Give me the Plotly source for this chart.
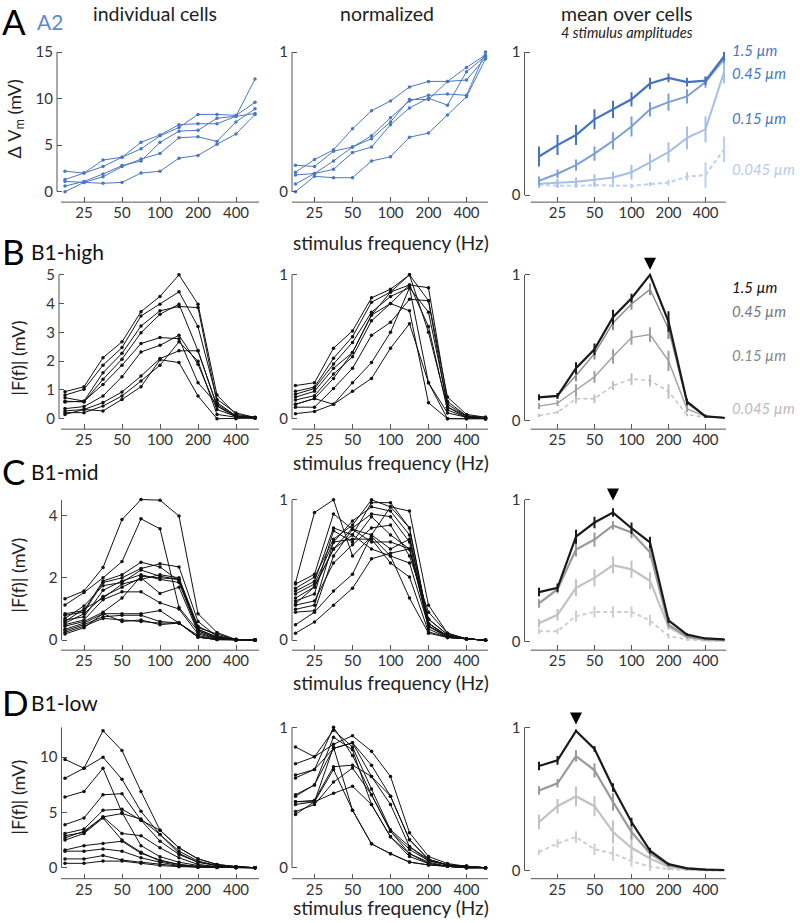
import math
import plotly.graph_objects as go

W, H = 800, 923
FONT = "Lato"

# ---------------- data ----------------
freqs = [17.68, 25, 35.36, 50, 70.71, 100, 141.4, 200, 282.8, 400, 565.7]
xtick_vals = [25, 50, 100, 200, 400]
xtick_text = ["25", "50", "100", "200", "400"]
amp_labels = ["1.5 µm", "0.45 µm", "0.15 µm", "0.045 µm"]

# Row A (A2) individual cells, mV
A_cells = [
    [2.2, 2.0, 2.7, 3.7, 4.6, 6.0, 6.9, 8.3, 8.3, 8.2, 9.6],
    [1.3, 2.0, 3.4, 3.7, 5.3, 6.1, 7.2, 7.3, 7.3, 8.1, 8.4],
    [0.6, 1.1, 1.9, 2.8, 3.3, 5.3, 6.5, 6.6, 7.9, 8.1, 12.1],
    [0.0, 1.0, 1.6, 2.7, 3.5, 4.1, 5.8, 5.9, 5.4, 7.5, 8.9],
    [1.1, 1.0, 0.9, 1.0, 2.0, 2.2, 3.6, 3.9, 5.1, 6.2, 8.3],
]
A_norm = [
    [0.14, 0.23, 0.30, 0.45, 0.58, 0.65, 0.75, 0.79, 0.79, 0.80, 0.96],
    [0.19, 0.18, 0.29, 0.32, 0.38, 0.50, 0.66, 0.66, 0.79, 0.89, 0.98],
    [0.12, 0.13, 0.22, 0.32, 0.40, 0.53, 0.65, 0.69, 0.70, 0.69, 1.00],
    [0.055, 0.13, 0.16, 0.28, 0.32, 0.48, 0.60, 0.67, 0.62, 0.86, 0.97],
    [0.0, 0.11, 0.10, 0.10, 0.22, 0.25, 0.39, 0.42, 0.55, 0.68, 0.95],
]
A_mean = [
    [0.27, 0.35, 0.42, 0.53, 0.60, 0.67, 0.78, 0.82, 0.79, 0.80, 0.97],
    [0.10, 0.15, 0.21, 0.29, 0.38, 0.48, 0.60, 0.65, 0.69, 0.79, 0.95],
    [0.08, 0.085, 0.093, 0.107, 0.123, 0.16, 0.23, 0.30, 0.40, 0.46, 0.86],
    [0.07, 0.065, 0.065, 0.07, 0.07, 0.065, 0.077, 0.088, 0.13, 0.14, 0.32],
]
A_err = [
    [0.07, 0.07, 0.07, 0.07, 0.06, 0.05, 0.04, 0.03, 0.03, 0.03, 0.03],
    [0.03, 0.03, 0.04, 0.05, 0.06, 0.07, 0.05, 0.06, 0.05, 0.04, 0.03],
    [0.03, 0.03, 0.03, 0.04, 0.04, 0.05, 0.06, 0.07, 0.08, 0.09, 0.08],
    [0.015, 0.015, 0.015, 0.015, 0.015, 0.015, 0.015, 0.02, 0.03, 0.09, 0.09],
]

# Row B (B1-high)
B_cells = [
    [0.94, 1.11, 2.12, 2.67, 3.72, 4.25, 5.0, 3.98, 0.82, 0.15, 0.05],
    [0.82, 1.02, 1.86, 2.47, 3.57, 3.98, 4.41, 3.2, 0.67, 0.2, 0.04],
    [0.73, 0.61, 1.6, 2.27, 3.22, 3.75, 3.9, 3.86, 0.56, 0.1, 0.03],
    [0.61, 0.58, 1.37, 2.07, 2.99, 3.63, 3.98, 2.36, 0.44, 0.1, 0.03],
    [0.58, 0.61, 1.19, 1.86, 2.61, 2.82, 2.78, 1.25, 0.5, 0.1, 0.03],
    [0.35, 0.42, 0.79, 1.46, 2.32, 2.55, 2.9, 1.89, 0.32, 0.08, 0.03],
    [0.27, 0.32, 0.56, 0.93, 1.48, 2.09, 2.36, 2.36, 0.44, 0.05, 0.02],
    [0.21, 0.21, 0.44, 0.79, 1.31, 1.86, 2.67, 2.0, 0.15, 0.05, 0.02],
    [0.15, 0.32, 0.27, 0.67, 1.11, 2.05, 1.95, 0.79, 0.0, 0.0, 0.02],
]
B_norm = [
    [0.23, 0.25, 0.49, 0.61, 0.84, 0.90, 1.0, 0.82, 0.15, 0.03, 0.01],
    [0.19, 0.22, 0.42, 0.57, 0.81, 0.88, 0.93, 0.91, 0.12, 0.02, 0.01],
    [0.17, 0.21, 0.38, 0.53, 0.74, 0.85, 0.91, 0.74, 0.10, 0.02, 0.0],
    [0.15, 0.19, 0.35, 0.46, 0.72, 0.88, 1.0, 0.60, 0.08, 0.02, 0.0],
    [0.13, 0.16, 0.31, 0.43, 0.68, 0.80, 0.93, 0.64, 0.06, 0.01, 0.0],
    [0.10, 0.14, 0.28, 0.46, 0.72, 0.80, 0.75, 0.11, 0.0, 0.0, 0.0],
    [0.08, 0.08, 0.21, 0.35, 0.58, 0.67, 0.83, 0.82, 0.08, 0.01, 0.0],
    [0.035, 0.05, 0.10, 0.25, 0.39, 0.60, 0.91, 0.25, 0.0, 0.0, 0.0],
    [0.10, 0.14, 0.10, 0.19, 0.28, 0.49, 0.66, 0.25, 0.04, 0.01, 0.0],
]
B_mean = [
    [0.16, 0.17, 0.36, 0.49, 0.71, 0.84, 1.0, 0.68, 0.13, 0.03, 0.02],
    [0.16, 0.17, 0.31, 0.46, 0.67, 0.80, 0.90, 0.63, 0.12, 0.03, 0.02],
    [0.10, 0.12, 0.21, 0.30, 0.44, 0.57, 0.59, 0.41, 0.08, 0.03, 0.02],
    [0.035, 0.058, 0.15, 0.15, 0.24, 0.285, 0.275, 0.20, 0.04, 0.025, 0.02],
]
B_err = [
    [0.02, 0.02, 0.04, 0.04, 0.05, 0.03, 0.0, 0.07, 0.02, 0.01, 0.005],
    [0.02, 0.02, 0.04, 0.04, 0.05, 0.04, 0.04, 0.07, 0.02, 0.01, 0.005],
    [0.02, 0.02, 0.04, 0.04, 0.05, 0.05, 0.05, 0.07, 0.02, 0.01, 0.005],
    [0.01, 0.01, 0.03, 0.03, 0.03, 0.04, 0.04, 0.05, 0.01, 0.005, 0.005],
]

# Row C (B1-mid)
C_cells = [
    [1.33, 1.58, 2.33, 3.87, 4.51, 4.49, 3.98, 0.85, 0.25, 0.02, 0.01],
    [1.13, 1.53, 2.0, 2.52, 3.89, 3.57, 1.05, 0.3, 0.08, 0.02, 0.01],
    [0.85, 0.95, 1.9, 2.1, 2.5, 2.35, 1.9, 0.35, 0.1, 0.02, 0.01],
    [0.8, 0.9, 1.85, 2.0, 2.3, 2.45, 2.35, 0.6, 0.12, 0.02, 0.01],
    [0.7, 1.1, 1.75, 1.85, 2.25, 2.05, 1.95, 0.4, 0.2, 0.02, 0.01],
    [0.65, 0.75, 1.6, 1.9, 2.1, 1.95, 1.85, 0.3, 0.08, 0.02, 0.01],
    [0.6, 1.0, 1.35, 1.8, 1.95, 2.1, 2.0, 0.45, 0.15, 0.02, 0.01],
    [0.55, 0.85, 1.4, 1.7, 2.0, 1.5, 1.7, 0.25, 0.05, 0.01, 0.01],
    [0.5, 0.65, 1.3, 1.55, 1.55, 1.2, 1.0, 0.2, 0.05, 0.01, 0.01],
    [0.45, 0.6, 0.9, 1.35, 2.05, 2.0, 1.95, 0.35, 0.1, 0.02, 0.01],
    [0.35, 0.55, 0.85, 0.85, 0.85, 0.95, 0.55, 0.15, 0.03, 0.01, 0.01],
    [0.3, 0.5, 0.75, 0.8, 0.8, 0.6, 0.55, 0.1, 0.02, 0.01, 0.01],
    [0.25, 0.45, 0.7, 0.65, 0.6, 0.55, 0.55, 0.1, 0.02, 0.01, 0.01],
    [0.2, 0.4, 0.85, 0.6, 0.65, 0.5, 0.55, 0.1, 0.02, 0.01, 0.01],
]
C_norm = [
    [0.41, 0.91, 1.00, 0.60, 0.74, 0.60, 0.55, 0.10, 0.03, 0.01, 0.0],
    [0.40, 0.47, 0.90, 0.79, 0.75, 0.65, 0.72, 0.15, 0.04, 0.01, 0.0],
    [0.37, 0.45, 0.72, 0.82, 1.00, 0.95, 0.92, 0.25, 0.05, 0.01, 0.0],
    [0.35, 0.42, 0.80, 0.75, 0.98, 0.98, 0.80, 0.12, 0.03, 0.01, 0.0],
    [0.33, 0.40, 0.70, 0.85, 0.95, 0.92, 0.75, 0.10, 0.03, 0.01, 0.0],
    [0.30, 0.38, 0.65, 0.80, 0.90, 0.88, 0.70, 0.08, 0.02, 0.01, 0.0],
    [0.28, 0.33, 0.78, 0.70, 0.88, 0.75, 0.65, 0.12, 0.03, 0.01, 0.0],
    [0.25, 0.28, 0.55, 0.68, 0.80, 0.82, 0.60, 0.20, 0.05, 0.01, 0.0],
    [0.22, 0.25, 0.70, 0.72, 0.72, 0.55, 0.45, 0.06, 0.02, 0.01, 0.0],
    [0.20, 0.21, 0.60, 0.79, 0.70, 0.70, 0.65, 0.10, 0.02, 0.01, 0.0],
    [0.26, 0.38, 0.65, 0.75, 0.65, 0.60, 0.30, 0.05, 0.02, 0.01, 0.0],
    [0.11, 0.20, 0.35, 0.47, 0.75, 0.95, 0.80, 0.12, 0.03, 0.01, 0.0],
    [0.05, 0.13, 0.25, 0.37, 0.58, 0.62, 0.65, 0.15, 0.04, 0.01, 0.0],
]
C_mean = [
    [0.35, 0.38, 0.74, 0.84, 0.91, 0.80, 0.70, 0.15, 0.05, 0.023, 0.016],
    [0.27, 0.37, 0.65, 0.72, 0.82, 0.77, 0.63, 0.12, 0.035, 0.016, 0.012],
    [0.13, 0.19, 0.38, 0.45, 0.54, 0.51, 0.43, 0.105, 0.03, 0.012, 0.007],
    [0.074, 0.074, 0.18, 0.21, 0.21, 0.21, 0.15, 0.04, 0.016, 0.007, 0.005],
]
C_err = [
    [0.03, 0.03, 0.05, 0.04, 0.03, 0.04, 0.04, 0.02, 0.01, 0.005, 0.005],
    [0.03, 0.03, 0.05, 0.05, 0.03, 0.04, 0.04, 0.02, 0.01, 0.005, 0.005],
    [0.03, 0.04, 0.06, 0.06, 0.06, 0.06, 0.06, 0.02, 0.01, 0.005, 0.005],
    [0.02, 0.02, 0.04, 0.04, 0.04, 0.04, 0.04, 0.02, 0.01, 0.005, 0.005],
]

# Row D (B1-low)
D_cells = [
    [9.8, 9.0, 12.4, 10.6, 6.9, 3.4, 1.8, 0.8, 0.3, 0.1, 0.0],
    [8.1, 9.0, 10.0, 8.0, 5.1, 3.0, 1.3, 0.5, 0.2, 0.1, 0.0],
    [6.4, 6.9, 9.0, 5.0, 2.0, 1.0, 0.5, 0.2, 0.1, 0.05, 0.0],
    [3.9, 4.5, 6.6, 6.7, 4.3, 2.4, 1.2, 0.5, 0.2, 0.1, 0.0],
    [3.1, 3.5, 5.2, 5.3, 4.3, 3.4, 1.8, 0.8, 0.3, 0.1, 0.0],
    [2.9, 3.2, 4.6, 4.9, 4.4, 3.0, 1.5, 0.6, 0.2, 0.1, 0.0],
    [2.7, 3.3, 4.6, 3.1, 2.9, 1.8, 0.9, 0.3, 0.1, 0.05, 0.0],
    [2.5, 3.1, 4.5, 2.5, 1.4, 0.6, 0.3, 0.1, 0.05, 0.02, 0.0],
    [1.6, 2.0, 2.2, 2.4, 1.3, 0.7, 0.3, 0.1, 0.05, 0.02, 0.0],
    [1.5, 1.5, 1.7, 1.5, 0.9, 0.5, 0.2, 0.1, 0.05, 0.02, 0.0],
    [0.8, 0.8, 1.1, 0.7, 0.5, 0.3, 0.15, 0.05, 0.02, 0.01, 0.0],
    [0.4, 0.4, 0.6, 0.6, 0.4, 0.2, 0.1, 0.05, 0.02, 0.01, 0.0],
]
D_norm = [
    [0.86, 0.79, 0.98, 0.86, 0.56, 0.27, 0.15, 0.06, 0.02, 0.01, 0.0],
    [0.74, 0.79, 0.88, 0.94, 0.83, 0.65, 0.25, 0.08, 0.03, 0.01, 0.0],
    [0.66, 0.70, 1.0, 0.80, 0.52, 0.26, 0.13, 0.05, 0.02, 0.01, 0.0],
    [0.64, 0.70, 0.85, 0.89, 0.73, 0.51, 0.20, 0.06, 0.02, 0.01, 0.0],
    [0.52, 0.59, 0.93, 0.84, 0.45, 0.22, 0.10, 0.04, 0.01, 0.0, 0.0],
    [0.51, 0.59, 0.85, 0.89, 0.65, 0.45, 0.15, 0.05, 0.02, 0.01, 0.0],
    [0.47, 0.48, 0.72, 0.73, 0.65, 0.51, 0.20, 0.06, 0.02, 0.01, 0.0],
    [0.45, 0.47, 0.70, 0.41, 0.17, 0.10, 0.04, 0.02, 0.01, 0.0, 0.0],
    [0.40, 0.45, 0.61, 0.71, 0.52, 0.26, 0.10, 0.03, 0.01, 0.0, 0.0],
    [0.38, 0.47, 0.53, 0.58, 0.45, 0.22, 0.08, 0.03, 0.01, 0.0, 0.0],
    [0.47, 0.47, 0.86, 0.41, 0.17, 0.10, 0.04, 0.02, 0.01, 0.0, 0.0],
]
D_mean = [
    [0.73, 0.77, 0.975, 0.85, 0.58, 0.34, 0.14, 0.046, 0.016, 0.007, 0.005],
    [0.56, 0.61, 0.80, 0.70, 0.48, 0.27, 0.12, 0.039, 0.016, 0.007, 0.005],
    [0.34, 0.45, 0.52, 0.45, 0.27, 0.16, 0.085, 0.028, 0.009, 0.005, 0.002],
    [0.13, 0.19, 0.235, 0.15, 0.12, 0.067, 0.028, 0.012, 0.005, 0.002, 0.0],
]
D_err = [
    [0.03, 0.03, 0.01, 0.02, 0.03, 0.03, 0.02, 0.01, 0.005, 0.002, 0.002],
    [0.03, 0.03, 0.04, 0.05, 0.06, 0.05, 0.03, 0.01, 0.005, 0.002, 0.002],
    [0.05, 0.05, 0.07, 0.07, 0.08, 0.08, 0.05, 0.02, 0.005, 0.002, 0.002],
    [0.02, 0.03, 0.04, 0.04, 0.05, 0.04, 0.03, 0.01, 0.005, 0.002, 0.002],
]

# peak arrowheads (frequency of peak, tip height in normalized units)
peak_freq = [None, 141.4, 70.71, 35.36]
peak_tip = [None, 1.035, 0.995, 1.02]

# ---------------- styles / geometry ----------------
rows_cells = [A_cells, B_cells, C_cells, D_cells]
rows_norm = [A_norm, B_norm, C_norm, D_norm]
rows_mean = [A_mean, B_mean, C_mean, D_mean]
rows_err = [A_err, B_err, C_err, D_err]

BLUE = "#4a78c4"
ind_color = [BLUE, "#111111", "#111111", "#111111"]
mean_colors = [
    ["#4673c0", "#7d9fd7", "#a7bfe7", "#bdd0ef"],
    ["#1a1a1a", "#8a8a8a", "#a0a0a0", "#c0c0c0"],
    ["#1a1a1a", "#9a9a9a", "#c2c2c2", "#cfcfcf"],
    ["#1a1a1a", "#9a9a9a", "#c2c2c2", "#cfcfcf"],
]
mean_widths = [
    [2.2, 2.0, 2.0, 2.0],
    [2.2, 1.4, 1.4, 1.4],
    [2.2, 2.2, 2.2, 2.0],
    [2.2, 2.2, 2.2, 2.0],
]

# rows: px of top value, zero, bottom (x-axis line)
row_geo = [
    dict(top=49.3, zero=189.5, bottom=200.0),
    dict(top=273.0, zero=417.5, bottom=428.0),
    dict(top=499.0, zero=640.0, bottom=650.0),
    dict(top=727.5, zero=868.5, bottom=879.5),
]
col3_zero = [193.0, 419.5, 641.5, 871.5]
col1_top = [15, 5, 4.5, 12.7]
col1_ticks = [[0, 5, 10, 15], [0, 1, 2, 3, 4, 5], [0, 2, 4], [0, 5, 10]]
col1_spine = [57.0, 59.0, 61.5, 61.5]

col_geo = [
    dict(x1=259.0, i0=65.0, step=19.0, xl=61.0),
    dict(x0=292.0, x1=488.0, i0=295.5, step=19.0, xl=292.0),
    dict(x0=524.5, x1=726.0, i0=539.0, step=18.5, xl=530.7),
]
PADS = [7.0, 7.0, 30.0]
TICK_SIZE = 15


def lg(i):
    return math.log10(25) + (i - 1) * math.log10(2) / 2


fig = go.Figure()
layout = dict(
    width=W, height=H, margin=dict(l=0, r=0, t=0, b=0),
    paper_bgcolor="white", plot_bgcolor="white", showlegend=False,
    font=dict(family=FONT, color="#222"),
)
shapes = []
annotations = []

for r in range(4):
    g = row_geo[r]
    for c in range(3):
        n = r * 3 + c + 1
        xa = "x" if n == 1 else f"x{n}"
        ya = "y" if n == 1 else f"y{n}"
        cg = col_geo[c]
        pad = PADS[c]
        x0 = col1_spine[r] if c == 0 else cg["x0"]
        x1 = cg["x1"]
        zero = col3_zero[r] if c == 2 else g["zero"]
        top_val = col1_top[r] if c == 0 else 1.0
        upp = top_val / (zero - g["top"])
        y_lo = -(g["bottom"] - zero) * upp
        y_hi = top_val + pad * upp
        iL = (x0 - cg["i0"]) / cg["step"]
        iR = (x1 - cg["i0"]) / cg["step"]
        layout[f"xaxis{n}"] = dict(
            type="log", domain=[x0 / W, x1 / W], range=[lg(iL), lg(iR)],
            anchor=ya, tickvals=xtick_vals, ticktext=xtick_text,
            ticks="inside", ticklen=5, tickwidth=1, tickcolor="#555",
            showline=False, showgrid=False, zeroline=False,
            tickfont=dict(family=FONT, size=TICK_SIZE, color="#333"),
        )
        layout[f"yaxis{n}"] = dict(
            domain=[1 - g["bottom"] / H, 1 - (g["top"] - pad) / H],
            range=[y_lo, y_hi], anchor=xa,
            tickvals=col1_ticks[r] if c == 0 else [0, 1],
            ticks="inside", ticklen=5, tickwidth=1, tickcolor="#555",
            showline=False, showgrid=False, zeroline=False,
            tickfont=dict(family=FONT, size=TICK_SIZE, color="#333"),
            ticklabelstandoff=3,
        )
        # spines
        shapes.append(dict(type="line", xref=f"{xa} domain", yref=ya,
                           x0=0, x1=0, y0=0, y1=top_val,
                           line=dict(color="#555", width=1)))
        shapes.append(dict(type="line", xref=f"{xa} domain", yref=f"{ya} domain",
                           x0=(cg["xl"] - x0) / (x1 - x0), x1=1, y0=0, y1=0,
                           line=dict(color="#555", width=1)))

        if c in (0, 1):
            series = rows_cells[r] if c == 0 else rows_norm[r]
            for s in series:
                fig.add_trace(go.Scatter(
                    x=freqs, y=s, mode="lines+markers", xaxis=xa, yaxis=ya,
                    line=dict(color=ind_color[r], width=1),
                    marker=dict(color=ind_color[r], size=3.5),
                    cliponaxis=False, hoverinfo="skip"))
        else:
            for k in range(3, -1, -1):
                col = mean_colors[r][k]
                fig.add_trace(go.Scatter(
                    x=freqs, y=rows_mean[r][k], mode="lines", xaxis=xa, yaxis=ya,
                    line=dict(color=col, width=mean_widths[r][k],
                              dash="4px,3px" if k == 3 else "solid"),
                    error_y=dict(type="data", array=rows_err[r][k], width=0,
                                 thickness=2, color=col, visible=True),
                    cliponaxis=False, hoverinfo="skip"))
            if peak_freq[r] is not None:
                fig.add_trace(go.Scatter(
                    x=[peak_freq[r]], y=[peak_tip[r]], mode="markers",
                    xaxis=xa, yaxis=ya,
                    marker=dict(symbol="arrow-down", size=12, color="black",
                                line=dict(width=0)),
                    cliponaxis=False, hoverinfo="skip"))


def ann(text, x, y, size, color="#222", xanchor="center", italic=False, angle=0):
    if italic:
        text = f"<i>{text}</i>"
    annotations.append(dict(text=text, x=x / W, y=1 - y / H, xref="paper", yref="paper",
                            xanchor=xanchor, yanchor="middle", showarrow=False,
                            textangle=angle,
                            font=dict(family=FONT, size=size, color=color)))


# column titles
ann("individual cells", 155, 11, 19.5)
ann("normalized", 387, 11, 19.5)
ann("mean over cells", 627, 11, 19.5)
ann("4 stimulus amplitudes", 627, 30, 14.5, italic=True)

# panel letters and names
letters = ["A", "B", "C", "D"]
names = ["A2", "B1-high", "B1-mid", "B1-low"]
name_colors = ["#5b8bd3", "#111", "#111", "#111"]
letter_y = [18, 249, 470, 702]
for r in range(4):
    ann(letters[r], 0, letter_y[r], 35, color="#000", xanchor="left")
    ann(names[r], 29 if r else 35, letter_y[r] + 1, 21, color=name_colors[r], xanchor="left")

# x labels
for y in [241, 461, 682, 908]:
    ann("stimulus frequency (Hz)", 391, y, 19)

# y labels
ann("Δ V<sub>m</sub> (mV)", 15, 117, 18, angle=-90)
for y in [357, 575, 798]:
    ann("|F(f)| (mV)", 18, y, 18, angle=-90)

# amplitude labels
labA_y = [47, 70, 115, 167]
labA_c = ["#4a78c4", "#4a78c4", "#4a78c4", "#b8cbec"]
labB_y = [285, 309, 354, 407]
labB_c = ["#111", "#777", "#888", "#bbb"]
for k in range(4):
    ann(amp_labels[k], 730, labA_y[k], 15, color=labA_c[k], xanchor="left", italic=True)
    ann(amp_labels[k], 730, labB_y[k], 15, color=labB_c[k], xanchor="left", italic=True)

layout["shapes"] = shapes
layout["annotations"] = annotations
fig.update_layout(**layout)
fig.write_html(
    "out.html",
    config={"displayModeBar": False},
    post_script="document.body.style.margin='0px';document.body.style.overflow='hidden';",
)
